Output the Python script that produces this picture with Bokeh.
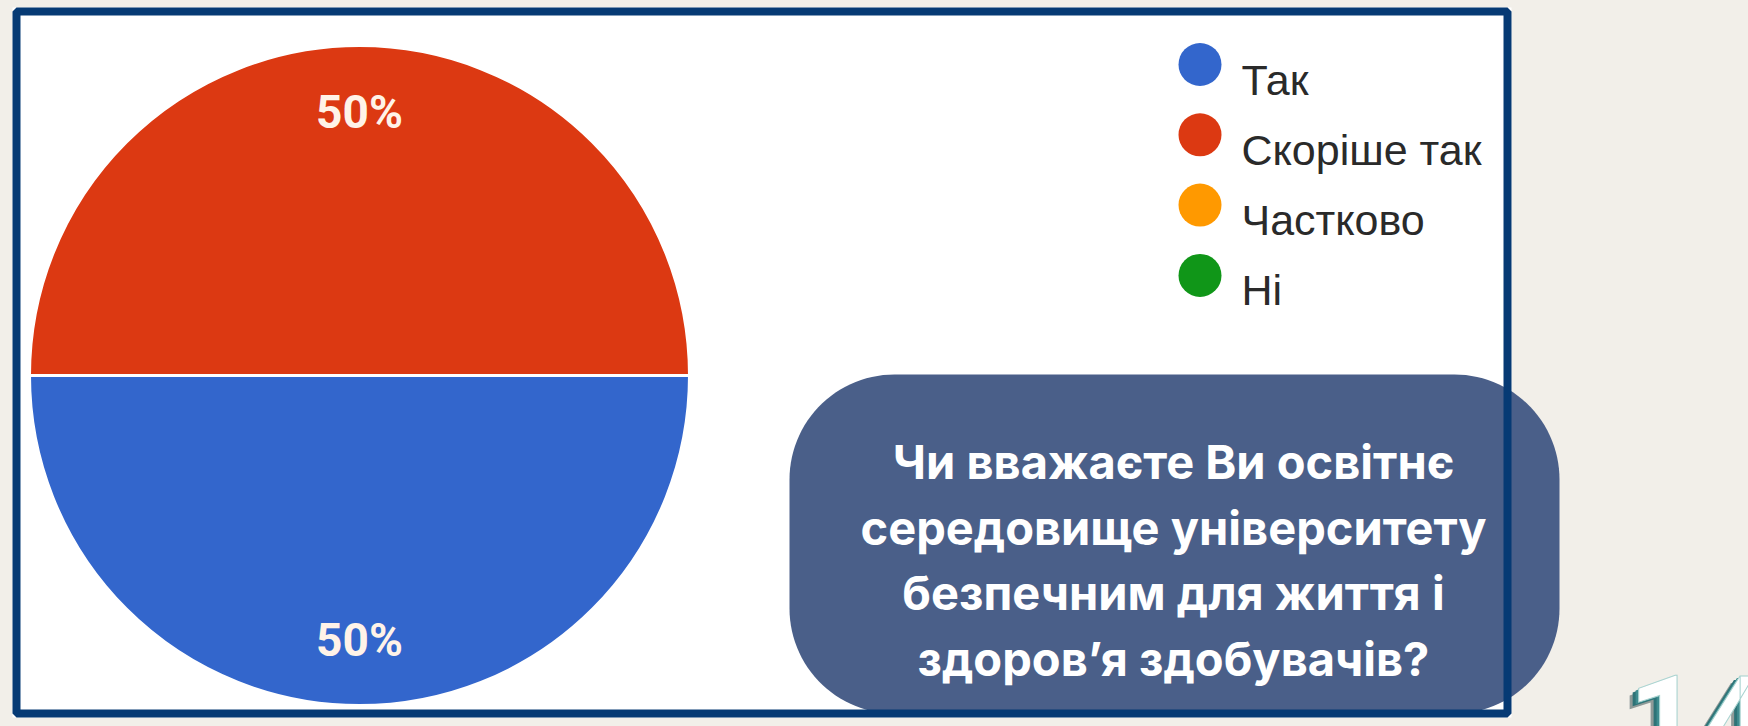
import numpy as np
from bokeh.plotting import figure
from bokeh.models import Range1d, ColumnDataSource, BoxAnnotation
from bokeh.core.properties import value
from bokeh.embed import file_html
from bokeh.resources import INLINE

# ---------------- data ----------------
categories = ["Так", "Скоріше так", "Частково", "Ні"]
percents = [50, 50, 0, 0]
colors = ["#3366CC", "#DC3912", "#FF9900", "#109618"]
question_lines = [
    "Чи вважаєте Ви освітнє",
    "середовище університету",
    "безпечним для життя і",
    "здоров\u2019я здобувачів?",
]
page_number = "14"

# ---------------- layout helpers (page pixel coords) ----------------
W, H = 1748, 726
BG = "#F2EFE9"
NAVY = "#063A74"


def Y(py):
    # page y (from top) -> data y
    return H - py


p = figure(width=W, height=H, output_backend="svg", toolbar_location=None,
           x_range=Range1d(0, W), y_range=Range1d(0, H),
           min_border=0, outline_line_color=None,
           background_fill_color=BG, border_fill_color=BG)
p.axis.visible = False
p.grid.visible = False

# white card inside the frame
p.add_layout(BoxAnnotation(left=12, right=1511, top=Y(7), bottom=Y(717),
                           fill_color="white", fill_alpha=1, line_color=None,
                           level="underlay"))

# ---------------- pie ----------------
cx, cy, R = 359, Y(375), 330
vals = np.array(percents, dtype=float)
frac = vals / vals.sum()
cum = np.concatenate([[0], np.cumsum(frac)])
start0 = np.pi
starts = start0 + 2 * np.pi * cum[:-1]
ends = start0 + 2 * np.pi * cum[1:]
keep = vals > 0
src = ColumnDataSource(dict(start=starts[keep], end=ends[keep],
                            color=[c for c, k in zip(colors, keep) if k]))
p.wedge(x=cx, y=cy, radius=R, start_angle="start", end_angle="end",
        direction="anticlock", fill_color="color", line_color="white",
        line_width=3, source=src)

mids = (starts + ends) / 2
lab_r = 0.8 * R
lab_src = ColumnDataSource(dict(
    x=(cx + lab_r * np.cos(mids))[keep],
    y=(cy + lab_r * np.sin(mids))[keep],
    t=[f"{int(round(v))}%" for v in vals[keep]]))
p.text(x="x", y="y", text="t", source=lab_src, text_color="#FFF3E8",
       text_font=value("Roboto"), text_font_style="bold", text_font_size="46px",
       text_align="center", text_baseline="middle")

# ---------------- legend ----------------
leg_x, leg_y0, leg_dy = 1199.5, 64, 70.3
leg_src = ColumnDataSource(dict(
    x=[leg_x] * len(categories),
    y=[Y(leg_y0 + i * leg_dy) for i in range(len(categories))],
    tx=[1241] * len(categories),
    ty=[Y(leg_y0 + i * leg_dy + 15) for i in range(len(categories))],
    color=colors, label=categories))
p.scatter(x="x", y="y", size=43, marker="circle", fill_color="color",
          line_color=None, source=leg_src)
p.text(x="tx", y="ty", text="label", source=leg_src, text_color="#2A2A2A",
       text_font=value("Liberation Sans"), text_font_size="43px",
       text_align="left", text_baseline="alphabetic")

# ---------------- question bubble ----------------
bx0, bx1, by0, by1, br = 789, 1559, 374, 713, 105
t = np.linspace(0, np.pi / 2, 30)
xs, ys = [], []
for (ccx, ccy, a0) in [(bx1 - br, by0 + br, 0.0), (bx0 + br, by0 + br, np.pi / 2),
                       (bx0 + br, by1 - br, np.pi), (bx1 - br, by1 - br, 1.5 * np.pi)]:
    ang = a0 + t
    xs.extend(ccx + br * np.cos(ang))
    ys.extend(Y(ccy) + br * np.sin(ang))
p.patch(xs, ys, fill_color="#4A5F89", line_color=None)

q_src = ColumnDataSource(dict(
    x=[1173] * len(question_lines),
    y=[Y(461 + i * 65.5) for i in range(len(question_lines))],
    t=question_lines))
p.text(x="x", y="y", text="t", source=q_src, text_color="white",
       text_font=value("Inter"), text_font_style="bold", text_font_size="47px",
       text_align="center", text_baseline="alphabetic")

# ---------------- frame border (on top of bubble) ----------------
p.add_layout(BoxAnnotation(left=16, right=1507, top=Y(11), bottom=Y(713),
                           fill_alpha=0, line_color=NAVY, line_alpha=1,
                           line_width=8, level="overlay"))

# ---------------- page number ----------------
pn_src = ColumnDataSource(dict(x=[1628], y=[Y(674)], t=[page_number]))
for dx, dy, col in [(-9, 7, "#8F9A98"), (-6, 4, "#2E7377"), (-3, 2, "#3E8C8F")]:
    p.text(x="x", y="y", text="t", source=pn_src, text_color=col,
           text_font=value("Roboto"), text_font_style="bold", text_font_size="124px",
           text_align="left", text_baseline="top", x_offset=dx, y_offset=dy)
p.text(x="x", y="y", text="t", source=pn_src, text_color="white",
       text_font=value("Roboto"), text_font_style="bold", text_font_size="124px",
       text_align="left", text_baseline="top", text_outline_color="#A9D3D0")

html = file_html(p, INLINE)
html = html.replace("<head>", "<head><style>body{background:%s;}</style>" % BG, 1)
open("out.html", "w").write(html)
